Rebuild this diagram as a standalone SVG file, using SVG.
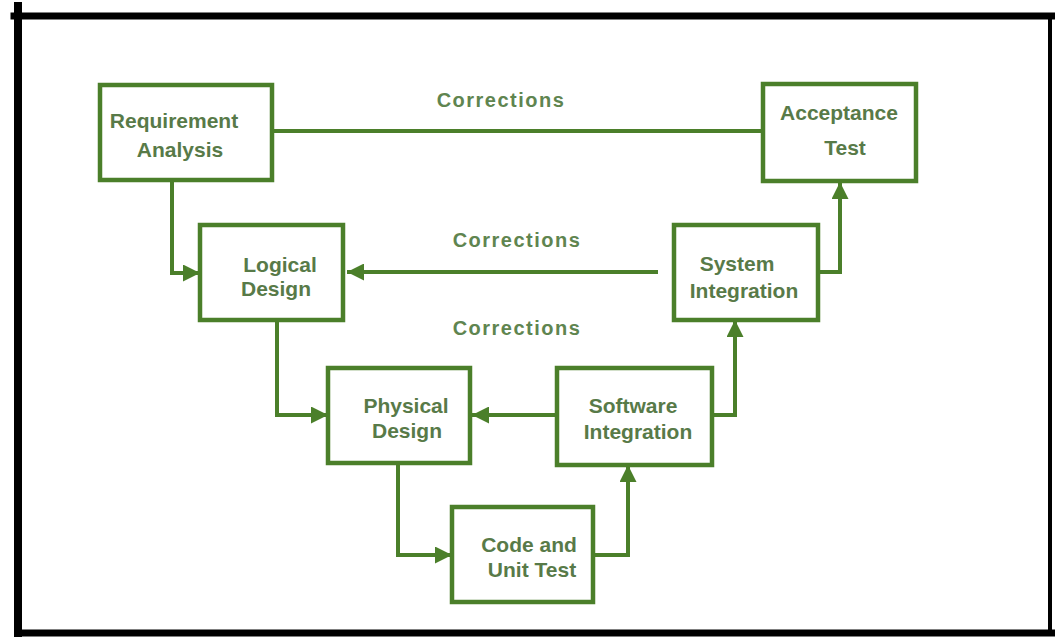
<svg xmlns="http://www.w3.org/2000/svg" width="1055" height="639" viewBox="0 0 1055 639">
  <style>
    .frame { stroke: #000; fill: none; stroke-linecap: square; }
    .box { fill: #fff; stroke: #4b7f2a; stroke-width: 4.5; }
    .wire { fill: none; stroke: #4b7f2a; stroke-width: 4; }
    .lbl { font-family: "Liberation Sans", Arial, sans-serif; font-weight: bold; font-size: 21px; fill: #587a48; text-anchor: middle; }
    .corr { font-family: "Liberation Sans", Arial, sans-serif; font-weight: bold; font-size: 20px; fill: #5f8550; text-anchor: middle; letter-spacing: 1.5px; }
  </style>
  <defs>
    <marker id="arrow" viewBox="0 0 17 17" refX="17" refY="8.5" markerWidth="17" markerHeight="17" markerUnits="userSpaceOnUse" orient="auto">
      <path d="M0,0 L17,8.5 L0,17 z" fill="#4b7f2a"/>
    </marker>
  </defs>

  <rect width="1055" height="639" fill="#fff"/>

  <!-- outer frame -->
  <g id="frame">
    <line class="frame" x1="14" y1="16" x2="1053" y2="16" stroke-width="7"/>
    <line class="frame" x1="18" y1="6" x2="18" y2="633" stroke-width="8"/>
    <line class="frame" x1="18" y1="633" x2="1053" y2="633" stroke-width="7"/>
    <line class="frame" x1="1050" y1="16" x2="1050" y2="633" stroke-width="4"/>
  </g>

  <!-- connectors -->
  <g id="connectors">
    <line class="wire" x1="272" y1="131" x2="763" y2="131"/>
    <polyline class="wire" points="172,180 172,273 200,273" marker-end="url(#arrow)"/>
    <line class="wire" x1="658" y1="272" x2="347" y2="272" marker-end="url(#arrow)"/>
    <polyline class="wire" points="818,272 840,272 840,182" marker-end="url(#arrow)"/>
    <polyline class="wire" points="277,320 277,415 328,415" marker-end="url(#arrow)"/>
    <line class="wire" x1="557" y1="415" x2="472" y2="415" marker-end="url(#arrow)"/>
    <polyline class="wire" points="712,415 735,415 735,320" marker-end="url(#arrow)"/>
    <polyline class="wire" points="398,463 398,555 452,555" marker-end="url(#arrow)"/>
    <polyline class="wire" points="593,555 628,555 628,465" marker-end="url(#arrow)"/>
    <text class="corr" x="501" y="107">Corrections</text>
    <text class="corr" x="517" y="247">Corrections</text>
    <text class="corr" x="517" y="335">Corrections</text>
  </g>

  <g id="requirement-analysis">
    <rect class="box" x="100" y="85" width="172" height="95"/>
    <text class="lbl" x="174" y="128">Requirement</text>
    <text class="lbl" x="180" y="157">Analysis</text>
  </g>

  <g id="acceptance-test">
    <rect class="box" x="763" y="84" width="153" height="97"/>
    <text class="lbl" x="839" y="120">Acceptance</text>
    <text class="lbl" x="845" y="155">Test</text>
  </g>

  <g id="logical-design">
    <rect class="box" x="200" y="225" width="143" height="95"/>
    <text class="lbl" x="280" y="272">Logical</text>
    <text class="lbl" x="276" y="296">Design</text>
  </g>

  <g id="system-integration">
    <rect class="box" x="674" y="225" width="144" height="95"/>
    <text class="lbl" x="737" y="271">System</text>
    <text class="lbl" x="744" y="298">Integration</text>
  </g>

  <g id="physical-design">
    <rect class="box" x="328" y="368" width="142" height="95"/>
    <text class="lbl" x="406" y="413">Physical</text>
    <text class="lbl" x="407" y="438">Design</text>
  </g>

  <g id="software-integration">
    <rect class="box" x="557" y="368" width="155" height="97"/>
    <text class="lbl" x="633" y="413">Software</text>
    <text class="lbl" x="638" y="439">Integration</text>
  </g>

  <g id="code-unit-test">
    <rect class="box" x="452" y="507" width="141" height="95"/>
    <text class="lbl" x="529" y="552">Code and</text>
    <text class="lbl" x="532" y="577">Unit Test</text>
  </g>
</svg>
